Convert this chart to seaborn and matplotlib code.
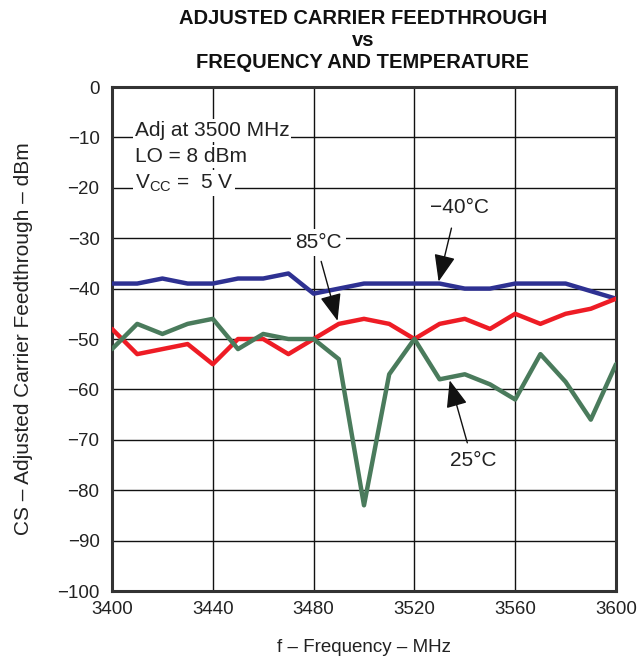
import matplotlib
matplotlib.use("Agg")
import matplotlib.pyplot as plt
import seaborn as sns
import pandas as pd

freq = [3400, 3410, 3420, 3430, 3440, 3450, 3460, 3470, 3480, 3490, 3500,
        3510, 3520, 3530, 3540, 3550, 3560, 3570, 3580, 3590, 3600]
cs_m40 = [-39, -39, -38, -39, -39, -38, -38, -37, -41, -40, -39,
          -39, -39, -39, -40, -40, -39, -39, -39, -40.5, -42]
cs_85 = [-48, -53, -52, -51, -55, -50, -50, -53, -50, -47, -46,
         -47, -50, -47, -46, -48, -45, -47, -45, -44, -42]
cs_25 = [-52, -47, -49, -47, -46, -52, -49, -50, -50, -54, -83,
         -57, -50, -58, -57, -59, -62, -53, -58.5, -66, -55]
series_names = ["−40°C", "85°C", "25°C"]
series_colors = ["#2E3192", "#EE1C25", "#4A7B5C"]
x_ticks = [3400, 3440, 3480, 3520, 3560, 3600]
y_ticks = [0, -10, -20, -30, -40, -50, -60, -70, -80, -90, -100]

df = pd.DataFrame({
    "freq": freq * 3,
    "cs": cs_m40 + cs_85 + cs_25,
    "temp": [series_names[0]] * len(freq) + [series_names[1]] * len(freq)
            + [series_names[2]] * len(freq),
})

sns.set_theme(style="white")
plt.rcParams["font.family"] = ["Liberation Sans", "DejaVu Sans"]

fig = plt.figure(figsize=(6.39, 6.58), dpi=100)
ax = fig.add_axes([112 / 639, 1 - 591 / 658, (616 - 112) / 639, (591 - 87) / 658])

ax.set_xlim(3400, 3600)
ax.set_ylim(-100, 0)
ax.set_xticks(x_ticks)
ax.set_yticks(y_ticks)
ax.grid(True, color="#111111", linewidth=1.0)
ax.set_axisbelow(True)

sns.lineplot(data=df, x="freq", y="cs", hue="temp", palette=dict(zip(series_names, series_colors)),
             linewidth=3.2, ax=ax, legend=False, zorder=3)

for s in ax.spines.values():
    s.set_color("#333333")
    s.set_linewidth(2.2)
    s.set_visible(True)

ax.tick_params(axis="both", length=0, labelsize=13.5, colors="#222222")
ax.tick_params(axis="y", pad=9)
ax.tick_params(axis="x", pad=7)
ax.set_xlabel("f – Frequency – MHz", fontsize=13.5, color="#222222", labelpad=15)
ax.set_ylabel("CS – Adjusted Carrier Feedthrough – dBm", fontsize=15, color="#222222")
ax.yaxis.set_label_coords(-0.156, 0.5)

title_lines = ["ADJUSTED CARRIER FEEDTHROUGH", "vs", "FREQUENCY AND TEMPERATURE"]
for t, yy in zip(title_lines, [19, 40, 62]):
    fig.text(363 / 639, 1 - yy / 658, t, ha="center", va="center",
             fontsize=14.5, fontweight="bold", color="#111111")

box = dict(facecolor="white", edgecolor="none", pad=1.5)
ax.text(3409, -8.6, "Adj at 3500 MHz", fontsize=15, va="center", ha="left", color="#222222",
        bbox=box, zorder=4)
ax.text(3409, -13.8, "LO = 8 dBm", fontsize=15, va="center", ha="left", color="#222222",
        bbox=box, zorder=4)
ax.text(3409, -19.0, r"V$_{\mathregular{CC}}$ =  5 V", fontsize=15, va="center", ha="left",
        color="#222222", bbox=box, zorder=4)

arrow = dict(arrowstyle="-|>,head_length=1.4,head_width=0.55", color="#111111", lw=1.0,
             shrinkA=0, shrinkB=0)
ax.annotate("", xy=(3489.5, -46.4), xytext=(3483, -34.6), arrowprops=arrow, zorder=5)
ax.annotate("", xy=(3529.6, -38.6), xytext=(3534.7, -28), arrowprops=arrow, zorder=5)
ax.annotate("", xy=(3534, -58.2), xytext=(3541, -70.6), arrowprops=arrow, zorder=5)

lbox = dict(facecolor="white", edgecolor="none", pad=3)
ax.text(3482, -30.9, "85°C", fontsize=15, ha="center", va="center", color="#222222",
        bbox=lbox, zorder=4)
ax.text(3538, -24.0, "−40°C", fontsize=15, ha="center", va="center", color="#222222",
        bbox=lbox, zorder=4)
ax.text(3543.5, -74.2, "25°C", fontsize=15, ha="center", va="center", color="#222222",
        bbox=lbox, zorder=4)

fig.savefig("out.png", dpi=100)
